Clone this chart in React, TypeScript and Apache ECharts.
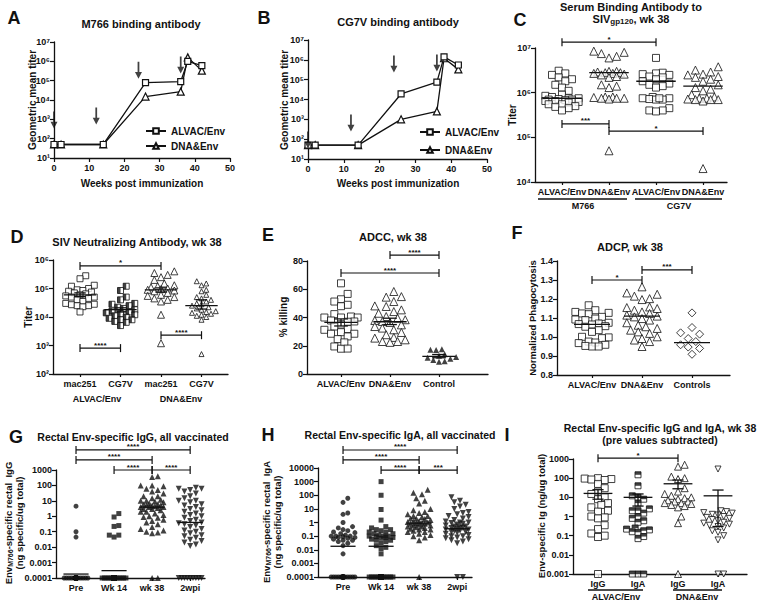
import React, { useEffect, useRef } from "react";
import * as echarts from "echarts";

// ---------------- DATA ----------------
const weeks = [0, 2, 14, 26, 36, 38, 42];
const aAlvac = [50, 50, 50, 8e4, 9e4, 1e6, 6e5];
const aDna = [50, 50, 50, 1.5e4, 2.7e4, 1.6e6, 3.3e5];
const bAlvac = [50, 50, 50, 1.9e4, 7.5e4, 1.4e6, 5.5e5];
const bDna = [50, 50, 50, 1e3, 2.5e3, 1.2e6, 3.3e5];
const arrowWeeks = [0, 12, 24, 36];
const aArrowTiter = [930, 1500, 3.5e5, 6.5e5];
const bArrowTiter = [91, 660, 6.2e5, 7e5];

const cCats = ["ALVAC/Env", "DNA&Env", "ALVAC/Env", "DNA&Env"];
const cAlvacM766 = [3.1e6, 2.7e6, 2.5e6, 2.2e6, 2.0e6, 1.8e6, 1.5e6, 1.3e6, 1.1e6, 9e5, 8.5e5, 8e5, 7.5e5, 7.5e5, 7.2e5, 7e5, 7e5, 6.8e5, 6.5e5, 6.5e5, 6.2e5, 6e5, 5.5e5, 5.5e5, 5e5, 4.8e5, 4.5e5, 4e5];
const cDnaM766 = [8.5e6, 8e6, 7.5e6, 6.5e6, 6e6, 3e6, 3e6, 2.9e6, 2.8e6, 2.8e6, 2.7e6, 2.7e6, 2.6e6, 2.5e6, 2.3e6, 2.2e6, 1.5e6, 1.4e6, 1.3e6, 8e5, 8e5, 7.8e5, 7.5e5, 7.5e5, 7.5e5, 7.2e5, 5e4];
const cAlvacCG7V = [6e6, 2.8e6, 2.7e6, 2.6e6, 2.5e6, 2.3e6, 2.2e6, 2e6, 1.8e6, 1.6e6, 1.5e6, 1.4e6, 1.3e6, 8e5, 7.5e5, 7.5e5, 7.2e5, 7e5, 7e5, 7.5e5, 4.5e5, 4e5, 4e5, 3.8e5];
const cDnaCG7V = [3.8e6, 3.2e6, 2.9e6, 2.6e6, 2.5e6, 2.3e6, 2.2e6, 2e6, 1.8e6, 1.5e6, 1.3e6, 1.2e6, 1.1e6, 9e5, 8e5, 7.5e5, 7.5e5, 7.2e5, 7e5, 7e5, 7e5, 6.5e5, 2e4];
const cLines = [7.5e5, 2.8e6, 1.8e6, 1.4e6];
const cBrackets: [number, number, number, string][] = [[1, 3, 1.35e7, "*"], [1, 2, 2e5, "***"], [2, 4, 1.38e5, "*"]];

const dCats = ["mac251", "CG7V", "mac251", "CG7V"];
const dAlvacMac = [2.8e5, 2.2e5, 1.3e5, 1.2e5, 1e5, 9e4, 8.5e4, 8e4, 7.5e4, 7e4, 6.5e4, 6e4, 5.5e4, 5e4, 5e4, 4.5e4, 4e4, 3.5e4, 3e4, 2.8e4, 2.7e4, 2.5e4, 2.5e4, 2.3e4, 1.5e4];
const dAlvacCG7V = [1.2e5, 8.5e4, 5e4, 4e4, 3e4, 2.8e4, 2.5e4, 2.2e4, 2e4, 1.8e4, 1.6e4, 1.5e4, 1.4e4, 1.3e4, 1.2e4, 1.1e4, 1e4, 9e3, 8e3, 8e3, 7e3, 6.5e3, 5e3];
const dDnaMac = [4e5, 3.5e5, 3e5, 2.5e5, 2e5, 1.5e5, 1.3e5, 1.2e5, 1.1e5, 1e5, 9.5e4, 9e4, 8.5e4, 8e4, 7e4, 6e4, 5.5e4, 5e4, 4.5e4, 4e4, 3.5e4, 1.2e4, 1.2e3];
const dDnaCG7V = [1.8e5, 1.5e5, 1.3e5, 9e4, 8e4, 6e4, 5e4, 4.5e4, 4e4, 3.5e4, 3e4, 2.8e4, 2.5e4, 2.2e4, 2e4, 1.8e4, 1.6e4, 1.5e4, 1.4e4, 1.3e4, 1.2e4, 1.1e4, 1e4, 8e3, 5e2];
const dLines = [6e4, 1.8e4, 9e4, 2.5e4];
const dSemLo = [5.2e4, 1.5e4, 7.5e4, 1.9e4];
const dSemHi = [7e4, 2.1e4, 1.05e5, 4e4];
const dBrackets: [number, number, number, string][] = [[1, 3, 6.2e5, "*"], [1, 2, 810, "****"], [3, 4, 2.3e3, "****"]];

const eCats = ["ALVAC/Env", "DNA&Env", "Control"];
const eAlvac = [64.2, 56.7, 52.9, 51.3, 49, 48, 42.4, 40.7, 40, 40, 40, 37.9, 37.2, 37, 35, 33.6, 31.8, 31.3, 28.5, 28.5, 29.6, 26.6, 24.7, 22.4, 19.5, 17.9, 18];
const eDna = [58.4, 54.8, 54.4, 51.3, 48.2, 47.8, 45.4, 44.2, 43, 40.7, 39.5, 38.4, 37.9, 37.2, 36.5, 34.8, 33.6, 32.5, 31.3, 29.4, 27.8, 25.9, 24.2, 23, 23, 22.4, 25.4];
const eControl = [17.6, 17.2, 17, 14, 13, 12, 11.5, 10.8, 10, 9, 8.7];
const eLines = [36.5, 37, 12.5];
const eSemLo = [34, 35, 11.5];
const eSemHi = [39, 39.5, 13.8];
const eBrackets: [number, number, number, string][] = [[2, 3, 84.2, "****"], [1, 3, 71.5, "****"]];

const fCats = ["ALVAC/Env", "DNA&Env", "Controls"];
const fAlvac = [1.167, 1.141, 1.132, 1.127, 1.124, 1.12, 1.106, 1.097, 1.092, 1.089, 1.075, 1.071, 1.068, 1.066, 1.057, 1.054, 1.036, 1.027, 1.001, 0.998, 0.994, 0.976, 0.971, 0.968, 0.959, 0.95, 0.95, 0.953];
const fDna = [1.264, 1.232, 1.225, 1.215, 1.202, 1.197, 1.158, 1.155, 1.15, 1.141, 1.132, 1.124, 1.115, 1.11, 1.106, 1.097, 1.089, 1.075, 1.062, 1.054, 1.045, 1.036, 1.027, 1.019, 1.001, 0.992, 0.984, 0.976, 0.95];
const fControls = [1.127, 1.05, 1.022, 1.015, 0.992, 0.976, 0.959, 0.947, 0.94, 0.909];
const fLines = [1.066, 1.11, 0.97];
const fBrackets: [number, number, number, string][] = [[1, 2, 1.3, "*"], [2, 3, 1.353, "***"]];

const ghCats = ["Pre", "Wk 14", "wk 38", "2wpi"];
const F = 0.0001; // assay floor
const gPre = [4.5, 0.1, 0.045, ...Array(48).fill(F)];
const gWk14 = [1.5, 0.9, 0.25, 0.22, 0.06, 0.06, 0.045, ...Array(44).fill(F)];
const gWk38 = [400, 350, 100, 100, 90, 60, 50, 40, 30, 20, 20, 15, 12, 10, 10, 9, 8, 7, 6, 6, 5, 5, 5, 4.5, 4, 4, 4, 3.5, 3, 3, 2.5, 2, 2, 1.5, 1.2, 1, 0.9, 0.8, 0.6, 0.5, 0.4, 0.3, 0.2, 0.15, 0.12, 0.1, 0.09, 0.08, F, F];
const g2wpi = [70, 60, 60, 50, 40, 30, 20, 15, 10, 10, 8, 6, 5, 4, 3, 2.5, 2, 1.5, 1.2, 1, 0.8, 0.6, 0.5, 0.4, 0.35, 0.3, 0.25, 0.2, 0.15, 0.12, 0.1, 0.08, 0.06, 0.05, 0.04, 0.03, 0.025, 0.02, 0.015, 0.012, ...Array(9).fill(F)];
const gLines = [1.8e-4, 3e-4, 3.9, 0.4];
const gBrackets: [number, number, number, string][] = [[1, 4, 2e4, "****"], [1, 3, 4.5e3, "****"], [2, 3, 1000, "****"], [3, 4, 1000, "****"]];

const hPre = [60, 30, 5, 4, 1, 0.5, 0.4, 0.3, 0.25, 0.2, 0.18, 0.15, 0.12, 0.1, 0.1, 0.1, 0.09, 0.08, 0.08, 0.07, 0.06, 0.05, 0.05, 0.04, 0.03, 0.02, 0.005, ...Array(28).fill(F)];
const hWk14 = [1000, 100, 9, 1.5, 0.5, 0.4, 0.3, 0.3, 0.25, 0.2, 0.2, 0.15, 0.15, 0.12, 0.1, 0.1, 0.1, 0.09, 0.08, 0.08, 0.07, 0.06, 0.05, 0.05, 0.04, 0.03, 0.02, 0.015, 0.012, 0.005, ...Array(25).fill(F)];
const hWk38 = [250, 150, 120, 60, 40, 25, 10, 8, 6, 5, 4, 3, 3, 2.5, 2, 2, 1.8, 1.5, 1.3, 1.2, 1.1, 1, 1, 0.9, 0.8, 0.8, 0.7, 0.6, 0.6, 0.5, 0.5, 0.45, 0.4, 0.35, 0.3, 0.3, 0.25, 0.2, 0.2, 0.15, 0.12, 0.1, 0.08, 0.05, F];
const h2wpi = [70, 40, 30, 20, 15, 10, 6, 5, 4, 3, 2.5, 2, 1.5, 1.2, 1, 1, 0.9, 0.8, 0.7, 0.6, 0.5, 0.5, 0.45, 0.4, 0.4, 0.35, 0.3, 0.3, 0.25, 0.25, 0.2, 0.2, 0.18, 0.15, 0.12, 0.1, 0.1, 0.08, 0.07, 0.06, 0.05, 0.04, 0.03, F, F];
const hLines = [0.018, 0.018, 0.9, 0.35];
const hBrackets: [number, number, number, string][] = [[1, 4, 2.1e5, "****"], [1, 3, 3.9e4, "****"], [2, 3, 7e3, "****"], [3, 4, 7e3, "***"]];

const iCats = ["IgG", "IgA", "IgG", "IgA"];
const I0 = 0.001;
const iAlvacIgG = [100, 95, 90, 85, 80, 50, 30, 20, 15, 10, 8, 5, 4, 3, 2, 1.8, 1, 0.9, 0.8, 0.35, 0.22, 0.13, 0.1, 0.085, I0];
const iAlvacIgA = [150, 40, 12, 10, 8, 5, 2.5, 2, 2, 1.5, 1, 0.8, 0.6, 0.5, 0.25, 0.22, 0.2, 0.18, 0.16, 0.15, 0.09, 0.07, I0, I0, I0];
const iDnaIgG = [500, 400, 120, 100, 90, 30, 20, 15, 12, 10, 9, 8, 7, 6, 6, 5, 5, 4.5, 4, 3.5, 3, 1, 0.45, I0];
const iDnaIgA = [300, 2, 1.8, 1.6, 1.5, 1.3, 1.2, 1, 0.9, 0.8, 0.7, 0.6, 0.5, 0.45, 0.4, 0.35, 0.3, 0.25, 0.18, 0.15, 0.1, 0.06, I0, I0];
const iLines = [16, 10, 51, 12];
const iSemLo = [8, 3.5, 28, 0.3];
const iSemHi = [25, 15, 80, 24];
const iBrackets: [number, number, number, string][] = [[1, 3, 1100, "*"]];

// ---------------- HELPERS ----------------
const FONT = '"Liberation Sans", Arial, Helvetica, sans-serif';
const INK = "#111";
const SUP = "⁰¹²³⁴⁵⁶⁷⁸⁹";
const supLabel = (v: number) => "10" + String(Math.round(v)).split("").map((c) => SUP[+c]).join("");
const decLabel = (v: number) => {
  const n = Math.round(v);
  return n >= 0 ? String(Math.pow(10, n)) : "0." + "0".repeat(-n - 1) + "1";
};

type Sym = { symbol: string; size: number; filled: boolean; rotate?: number; half?: "left" | "top" };

function swarm(vals: number[], toPx: (v: number) => number, diam: number, maxHalf: number): number[] {
  const order = vals.map((_, i) => i).sort((a, b) => toPx(vals[a]) - toPx(vals[b]));
  const placed: [number, number][] = [];
  const off: number[] = new Array(vals.length).fill(0);
  const step = diam / 2;
  const cands: number[] = [0];
  for (let k = 1; k * step <= maxHalf; k++) cands.push(k * step, -k * step);
  for (const i of order) {
    const y = toPx(vals[i]);
    let best = 0;
    let bestD = -1;
    for (const c of cands) {
      let md = Infinity;
      for (const [px, py] of placed) {
        const d = Math.hypot(px - c, py - y);
        if (d < md) md = d;
      }
      if (md >= diam) { best = c; break; }
      if (md > bestD) { bestD = md; best = c; }
    }
    placed.push([best, y]);
    off[i] = best;
  }
  return off;
}

const axisLineStyle = { onZero: false, lineStyle: { color: INK, width: 1.3 } };
const labelStyle = { color: INK, fontSize: 9, fontWeight: "bold" as const, fontFamily: FONT };

interface ScatterPanel {
  grid: { left: number; top: number; width: number; height: number };
  xMin: number; xMax: number; cats: string[];
  log: boolean; yMin: number; yMax: number; yInterval: number; yFmt: (v: number) => string;
  groups: number[][]; syms: Sym[]; maxHalf: number;
  lines: number[]; lineHalf: number; semLo?: number[]; semHi?: number[];
  brackets: [number, number, number, string][];
}

type Out = { grid: any[]; xAxis: any[]; yAxis: any[]; series: any[] };

function symStyle(s: Sym) {
  return s.filled ? { color: INK } : { color: "#fff", borderColor: INK, borderWidth: 1 };
}

function addScatterPanel(p: ScatterPanel, out: Out) {
  const idx = out.grid.length;
  const { left, top, width, height } = p.grid;
  out.grid.push({ left, top, width, height });
  const ticks = p.cats.map((_, i) => i + 1);
  out.xAxis.push({
    type: "value", gridIndex: idx, min: p.xMin, max: p.xMax,
    axisLine: axisLineStyle,
    axisTick: { customValues: ticks, length: 3, lineStyle: { color: INK, width: 1.2 } },
    axisLabel: { ...labelStyle, margin: 5, customValues: ticks, formatter: (v: number) => p.cats[Math.round(v) - 1] ?? "" },
    splitLine: { show: false },
  });
  out.yAxis.push({
    type: "value", gridIndex: idx, min: p.yMin, max: p.yMax, interval: p.yInterval,
    axisLine: { show: true, ...axisLineStyle },
    axisTick: { show: true, length: 4, lineStyle: { color: INK, width: 1.2 } },
    axisLabel: { ...labelStyle, margin: 4, formatter: p.yFmt },
    splitLine: { show: false },
  });
  const tf = (v: number) => (p.log ? Math.log10(v) : v);
  const spacing = width / (p.xMax - p.xMin);
  const toPx = (v: number) => ((tf(v) - p.yMin) / (p.yMax - p.yMin)) * height;
  p.groups.forEach((vals, gi) => {
    const s = p.syms[gi];
    const offs = swarm(vals, toPx, s.size * 0.95, p.maxHalf);
    const data = vals.map((v, i) => [gi + 1 + offs[i] / spacing, tf(v)]);
    out.series.push({
      type: "scatter", xAxisIndex: idx, yAxisIndex: idx, data, symbol: s.symbol, symbolSize: s.size,
      symbolRotate: s.rotate || 0, itemStyle: symStyle(s), silent: true, z: 3,
    });
    if (s.half) {
      const sz = s.half === "left" ? [s.size / 2, s.size] : [s.size, s.size / 2];
      const of = s.half === "left" ? [-s.size / 4, 0] : [0, -s.size / 4];
      out.series.push({
        type: "scatter", xAxisIndex: idx, yAxisIndex: idx, data, symbol: "rect", symbolSize: sz,
        symbolOffset: of, itemStyle: { color: INK }, silent: true, z: 4,
      });
    }
  });
  const stroke = { stroke: INK, lineWidth: 1.3 };
  out.series.push({
    type: "custom", xAxisIndex: idx, yAxisIndex: idx, silent: true, z: 6,
    data: p.lines.map((m, i) => [i + 1, tf(m)]),
    renderItem: (params: any, api: any) => {
      const i = params.dataIndex;
      const g = api.value(0), m = api.value(1);
      const a = api.coord([g - p.lineHalf, m]);
      const b = api.coord([g + p.lineHalf, m]);
      const children: any[] = [{ type: "line", shape: { x1: a[0], y1: a[1], x2: b[0], y2: b[1] }, style: stroke }];
      if (p.semLo && p.semHi) {
        const lo = api.coord([g, tf(p.semLo[i])]);
        const hi = api.coord([g, tf(p.semHi[i])]);
        const cw = api.coord([g + 0.14, m])[0] - api.coord([g, m])[0];
        children.push({ type: "line", shape: { x1: lo[0], y1: lo[1], x2: hi[0], y2: hi[1] }, style: stroke });
        children.push({ type: "line", shape: { x1: lo[0] - cw, y1: lo[1], x2: lo[0] + cw, y2: lo[1] }, style: stroke });
        children.push({ type: "line", shape: { x1: hi[0] - cw, y1: hi[1], x2: hi[0] + cw, y2: hi[1] }, style: stroke });
      }
      return { type: "group", children };
    },
  });
  out.series.push({
    type: "custom", xAxisIndex: idx, yAxisIndex: idx, silent: true, z: 7, clip: false,
    data: p.brackets.map((b) => [b[0], tf(b[2])]),
    renderItem: (params: any, api: any) => {
      const br = p.brackets[params.dataIndex];
      const y = tf(br[2]);
      const a = api.coord([br[0], y]);
      const b = api.coord([br[1], y]);
      const st = { stroke: INK, lineWidth: 1.2 };
      return {
        type: "group",
        children: [
          { type: "line", shape: { x1: a[0], y1: a[1], x2: b[0], y2: b[1] }, style: st },
          { type: "line", shape: { x1: a[0], y1: a[1] - 4, x2: a[0], y2: a[1] + 4 }, style: st },
          { type: "line", shape: { x1: b[0], y1: b[1] - 4, x2: b[0], y2: b[1] + 4 }, style: st },
          { type: "text", x: (a[0] + b[0]) / 2, y: a[1] + 1, style: { text: br[3], font: `bold 8px ${FONT}`, fill: INK, align: "center", verticalAlign: "bottom" } },
        ],
      };
    },
  });
}

const ARROW = "path://M3,0 L5,0 L5,11 L8,11 L4,18 L0,11 L3,11 Z";

function addLinePanel(grid: any, alvac: number[], dna: number[], arrowT: number[], out: Out) {
  const idx = out.grid.length;
  out.grid.push(grid);
  out.xAxis.push({
    type: "value", gridIndex: idx, min: 0, max: 50, interval: 10,
    axisLine: axisLineStyle, axisTick: { length: 4, lineStyle: { color: INK, width: 1.2 } },
    axisLabel: { ...labelStyle, margin: 5 }, splitLine: { show: false },
  });
  out.yAxis.push({
    type: "value", gridIndex: idx, min: 1, max: 7, interval: 1,
    axisLine: { show: true, ...axisLineStyle }, axisTick: { show: true, length: 4, lineStyle: { color: INK, width: 1.2 } },
    axisLabel: { ...labelStyle, margin: 4, formatter: supLabel }, splitLine: { show: false },
  });
  const ls = { color: INK, width: 1.3 };
  out.series.push({
    type: "line", name: "ALVAC/Env", xAxisIndex: idx, yAxisIndex: idx,
    data: weeks.map((w, i) => [w, Math.log10(alvac[i])]), symbol: "rect", symbolSize: 6,
    showAllSymbol: true, lineStyle: ls, itemStyle: { color: "#fff", borderColor: INK, borderWidth: 1.2 }, z: 4,
  });
  out.series.push({
    type: "line", name: "DNA&Env", xAxisIndex: idx, yAxisIndex: idx,
    data: weeks.map((w, i) => [w, Math.log10(dna[i])]), symbol: "triangle", symbolSize: 7,
    showAllSymbol: true, lineStyle: ls, itemStyle: { color: "#fff", borderColor: INK, borderWidth: 1.2 }, z: 3,
  });
  out.series.push({
    type: "scatter", xAxisIndex: idx, yAxisIndex: idx, silent: true,
    data: arrowWeeks.map((w, i) => [w, Math.log10(arrowT[i])]), symbol: ARROW, symbolSize: [7, 17],
    itemStyle: { color: INK }, z: 5,
  });
}

function txt(x: number, y: number, text: string, size: number, extra: any = {}) {
  return {
    type: "text", x, y, silent: true, rotation: extra.rotation || 0,
    style: { text, font: `bold ${size}px ${FONT}`, fill: INK, align: extra.align || "center", verticalAlign: "middle", rich: extra.rich },
  };
}
function hline(x1: number, x2: number, y: number) {
  return { type: "line", silent: true, shape: { x1, y1: y, x2, y2: y }, style: { stroke: INK, lineWidth: 1.3 } };
}

const R = Math.PI / 2;
const subRich = (size: number) => ({ sub: { font: `bold ${size}px ${FONT}`, fill: INK, padding: [4, 0, 0, 0] } });

export default function App() {
  const ref = useRef<HTMLDivElement>(null);
  useEffect(() => {
    if (!ref.current) return;
    const chart = echarts.init(ref.current, undefined, { renderer: "svg" });
    const out: Out = { grid: [], xAxis: [], yAxis: [], series: [] };

    addLinePanel({ left: 54, top: 42, width: 176, height: 116 }, aAlvac, aDna, aArrowTiter, out);
    addLinePanel({ left: 308, top: 40, width: 179, height: 119 }, bAlvac, bDna, bArrowTiter, out);

    const openSq = (s: number): Sym => ({ symbol: "rect", size: s, filled: false });
    const openTri = (s: number): Sym => ({ symbol: "triangle", size: s, filled: false });

    addScatterPanel({
      grid: { left: 535, top: 48, width: 192, height: 134 }, xMin: 0.426, xMax: 4.51, cats: cCats,
      log: true, yMin: 4, yMax: 7, yInterval: 1, yFmt: supLabel,
      groups: [cAlvacM766, cDnaM766, cAlvacCG7V, cDnaCG7V], syms: [openSq(7), openTri(8), openSq(7), openTri(8)],
      maxHalf: 18, lines: cLines, lineHalf: 0.42, brackets: cBrackets,
    }, out);
    addScatterPanel({
      grid: { left: 53, top: 260, width: 175, height: 114 }, xMin: 0.333, xMax: 4.654, cats: dCats,
      log: true, yMin: 2, yMax: 6, yInterval: 1, yFmt: supLabel,
      groups: [dAlvacMac, dAlvacCG7V, dDnaMac, dDnaCG7V],
      syms: [openSq(6), { symbol: "rect", size: 6, filled: false, half: "left" }, openTri(7), openTri(5)],
      maxHalf: 16, lines: dLines, lineHalf: 0.4, semLo: dSemLo, semHi: dSemHi, brackets: dBrackets,
    }, out);
    addScatterPanel({
      grid: { left: 307, top: 261, width: 181, height: 113 }, xMin: 0.306, xMax: 4.0, cats: eCats,
      log: false, yMin: 0, yMax: 80, yInterval: 20, yFmt: (v: number) => String(v),
      groups: [eAlvac, eDna, eControl], syms: [openSq(7), openTri(8), { symbol: "triangle", size: 6, filled: true }],
      maxHalf: 18, lines: eLines, lineHalf: 0.34, semLo: eSemLo, semHi: eSemHi, brackets: eBrackets,
    }, out);
    addScatterPanel({
      grid: { left: 557, top: 261, width: 173, height: 114 }, xMin: 0.3, xMax: 3.76, cats: fCats,
      log: false, yMin: 0.8, yMax: 1.4, yInterval: 0.1, yFmt: (v: number) => v.toFixed(1),
      groups: [fAlvac, fDna, fControls], syms: [openSq(7), openTri(8), { symbol: "diamond", size: 8, filled: false }],
      maxHalf: 18, lines: fLines, lineHalf: 0.36, brackets: fBrackets,
    }, out);
    const filledSyms: Sym[] = [
      { symbol: "circle", size: 5, filled: true }, { symbol: "rect", size: 5, filled: true },
      { symbol: "triangle", size: 6, filled: true }, { symbol: "triangle", size: 6, filled: true, rotate: 180 },
    ];
    addScatterPanel({
      grid: { left: 56, top: 470, width: 149, height: 108 }, xMin: 0.474, xMax: 4.39, cats: ghCats,
      log: true, yMin: -4, yMax: 3, yInterval: 1, yFmt: decLabel,
      groups: [gPre, gWk14, gWk38, g2wpi], syms: filledSyms, maxHalf: 14, lines: gLines, lineHalf: 0.33, brackets: gBrackets,
    }, out);
    addScatterPanel({
      grid: { left: 318, top: 468, width: 154, height: 109 }, xMin: 0.342, xMax: 4.39, cats: ghCats,
      log: true, yMin: -4, yMax: 4, yInterval: 1, yFmt: decLabel,
      groups: [hPre, hWk14, hWk38, h2wpi], syms: filledSyms, maxHalf: 14, lines: hLines, lineHalf: 0.33, brackets: hBrackets,
    }, out);
    addScatterPanel({
      grid: { left: 573, top: 459, width: 174, height: 115 }, xMin: 0.375, xMax: 4.725, cats: iCats,
      log: true, yMin: -3, yMax: 3, yInterval: 1, yFmt: decLabel,
      groups: [iAlvacIgG, iAlvacIgA, iDnaIgG, iDnaIgA],
      syms: [openSq(7), { symbol: "rect", size: 6, filled: false, half: "top" }, openTri(7), { symbol: "triangle", size: 6, filled: false, rotate: 180 }],
      maxHalf: 15, lines: iLines, lineHalf: 0.36, semLo: iSemLo, semHi: iSemHi, brackets: iBrackets,
    }, out);

    const graphics: any[] = [
      // panel letters
      txt(14, 18, "A", 18), txt(264, 18, "B", 18), txt(520, 20, "C", 18),
      txt(17, 237, "D", 18), txt(268, 235, "E", 18), txt(517, 233, "F", 18),
      txt(16, 437, "G", 18), txt(268, 435, "H", 18), txt(507, 435, "I", 18),
      // titles
      txt(141, 24, "M766 binding antibody", 11), txt(398, 22, "CG7V binding antibody", 11),
      txt(631, 7, "Serum Binding Antibody to", 11),
      txt(631, 19, "SIV{sub|gp120}, wk 38", 11, { rich: subRich(8) }),
      txt(137, 242, "SIV Neutralizing Antibody, wk 38", 11), txt(393, 237, "ADCC, wk 38", 11),
      txt(630, 247, "ADCP, wk 38", 11),
      txt(133, 437, "Rectal Env-specific IgG, all vaccinated", 10.5),
      txt(400, 435, "Rectal Env-specific IgA, all vaccinated", 10.5),
      txt(660, 428, "Rectal Env-specific IgG and IgA, wk 38", 10.5),
      txt(660, 440, "(pre values subtracted)", 10.5),
      // axis names
      txt(142, 183, "Weeks post immunization", 10), txt(398, 183, "Weeks post immunization", 10),
      txt(32, 100, "Geometric mean titer", 10, { rotation: R }),
      txt(284, 100, "Geometric mean titer", 10, { rotation: R }),
      txt(512, 115, "Titer", 10, { rotation: R }), txt(28, 317, "Titer", 10, { rotation: R }),
      txt(283, 317, "% killing", 10, { rotation: R }),
      txt(532, 318, "Normalized Phagocytosis", 9.5, { rotation: R }),
      txt(8, 523, "Env{sub|M766}-specific rectal  IgG", 9.5, { rotation: R, rich: subRich(7) }),
      txt(19, 523, "(ng specific/ug total)", 9.5, { rotation: R }),
      txt(266, 522, "Env{sub|M766}-specific rectal  IgA", 9.5, { rotation: R, rich: subRich(7) }),
      txt(277, 522, "(ng specific/ug total)", 9.5, { rotation: R }),
      txt(541, 516, "Env-specific Ig (ng/ug total)", 9.5, { rotation: R }),
      // group labels
      hline(538, 627, 199), hline(635, 722, 199), txt(583, 206, "M766", 9), txt(679, 206, "CG7V", 9),
      txt(97, 399, "ALVAC/Env", 9), txt(181, 399, "DNA&Env", 9),
      hline(588, 643, 590), hline(673, 722, 590), txt(616, 597, "ALVAC/Env", 9), txt(697, 597, "DNA&Env", 9),
    ];

    const legendBase = {
      data: ["ALVAC/Env", "DNA&Env"], orient: "vertical", selectedMode: false,
      itemWidth: 20, itemHeight: 7,
      textStyle: { fontSize: 10, fontWeight: "bold", fontFamily: FONT, color: INK },
    };

    chart.setOption({
      animation: false,
      backgroundColor: "#fff",
      grid: out.grid,
      xAxis: out.xAxis,
      yAxis: out.yAxis,
      series: out.series,
      legend: [
        { ...legendBase, left: 140, top: 121, itemGap: 5 },
        { ...legendBase, left: 414, top: 122, itemGap: 8 },
      ],
      graphic: graphics,
    });
    return () => chart.dispose();
  }, []);
  return <div ref={ref} style={{ position: "absolute", left: 0, top: 0, width: 760, height: 602, background: "#fff" }} />;
}
